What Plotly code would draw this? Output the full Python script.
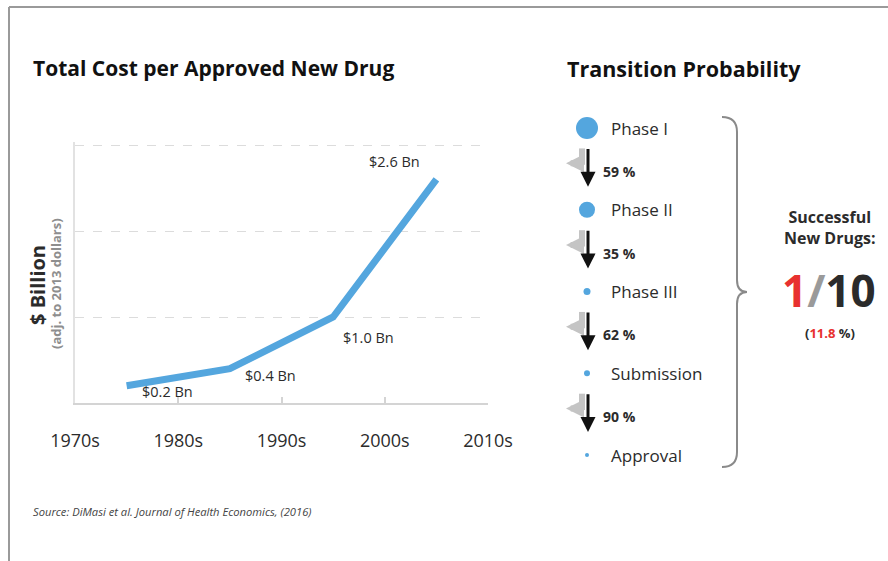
import plotly.graph_objects as go

# ---------------- data ----------------
decades = [1970, 1980, 1990, 2000, 2010]
decade_labels = ["1970s", "1980s", "1990s", "2000s", "2010s"]
years = [1975, 1985, 1995, 2005]
cost_bn = [0.2, 0.4, 1.0, 2.6]
y_grid = [1, 2, 3]

stages = ["Phase I", "Phase II", "Phase III", "Submission", "Approval"]
transition_pct = [59, 35, 62, 90]
success_num = 1
success_den = 10
success_pct = 11.8

W, H = 888, 561
DARK = "#2b2b2b"
BLUE = "#54a6de"
GRAYA = "#c4c4c4"
FONT = "Open Sans"


def px(x):
    return x / W


def py(y):
    return 1 - y / H


fig = go.Figure()

# ---------------- left chart ----------------
fig.add_trace(go.Scatter(
    x=years, y=cost_bn, mode="lines",
    line=dict(color=BLUE, width=7),
    hoverinfo="skip", showlegend=False, xaxis="x", yaxis="y"))

label_shifts = [(41, -6), (41, -7), (35, -20), (-42, 18)]
annotations = []
for yr, v, (dx, dy) in zip(years, cost_bn, label_shifts):
    annotations.append(dict(
        x=yr, y=v, xref="x", yref="y", text=f"${v:.1f} Bn", showarrow=False,
        xshift=dx, yshift=dy, xanchor="center", yanchor="middle",
        font=dict(family=FONT, size=14.5, color=DARK)))

# ---------------- transition panel (x2: pixels, y2: stage index) ----------------
marker_sizes = [22, 16, 7, 6, 4]
idx = list(range(len(stages)))
fig.add_trace(go.Scatter(
    x=[587] * len(stages), y=idx, mode="markers",
    marker=dict(size=marker_sizes, color=BLUE, opacity=1, line=dict(width=0)),
    hoverinfo="skip", showlegend=False, xaxis="x2", yaxis="y2"))

for i, s in enumerate(stages):
    annotations.append(dict(
        x=609, y=i, xref="x2", yref="y2", text=s, showarrow=False,
        xanchor="left", yanchor="middle",
        font=dict(family=FONT, size=17, color=DARK)))

shapes = []
for i, p in enumerate(transition_pct):
    annotations.append(dict(
        x=601, y=i + 0.53, xref="x2", yref="y2", text=f"<b>{p} %</b>",
        showarrow=False, xanchor="left", yanchor="middle",
        font=dict(family=FONT, size=14, color=DARK)))
    # gray drop-out arrow (vertical stub + left-pointing head)
    shapes.append(dict(
        type="line", xref="x2", yref="y2", x0=582, x1=582,
        y0=i + 0.25, y1=i + 0.45, line=dict(color=GRAYA, width=6)))
    annotations.append(dict(
        x=566, y=i + 0.43, ax=585, ay=i + 0.43, xref="x2", yref="y2",
        axref="x2", ayref="y2", text="", showarrow=True,
        arrowhead=2, arrowsize=0.6, arrowwidth=6, arrowcolor=GRAYA))
    # black down arrow
    annotations.append(dict(
        x=588, y=i + 0.72, ax=588, ay=i + 0.24, xref="x2", yref="y2",
        axref="x2", ayref="y2", text="", showarrow=True,
        arrowhead=2, arrowsize=1.0, arrowwidth=3, arrowcolor="#111"))

# brace
brace = (f"M {px(722)},{py(117)} Q {px(737)},{py(117)} {px(737)},{py(132)} "
         f"L {px(737)},{py(280)} Q {px(737)},{py(292)} {px(747)},{py(292)} "
         f"Q {px(737)},{py(292)} {px(737)},{py(304)} "
         f"L {px(737)},{py(452)} Q {px(737)},{py(467)} {px(722)},{py(467)}")
shapes.append(dict(type="path", xref="paper", yref="paper", path=brace,
                   line=dict(color="#8a8a8a", width=2)))

# frame lines
shapes.append(dict(type="line", xref="paper", yref="paper",
                   x0=px(9), x1=px(888), y0=py(7), y1=py(7),
                   line=dict(color="#9a9a9a", width=2)))
shapes.append(dict(type="line", xref="paper", yref="paper",
                   x0=px(9), x1=px(9), y0=py(7), y1=py(561),
                   line=dict(color="#9a9a9a", width=2)))

# summary text
annotations += [
    dict(x=px(830), y=py(227), xref="paper", yref="paper", showarrow=False,
         xanchor="center", yanchor="middle",
         text="<b>Successful<br>New Drugs:</b>", align="center",
         font=dict(family=FONT, size=16, color=DARK)),
    dict(x=px(829), y=py(290), xref="paper", yref="paper", showarrow=False,
         xanchor="center", yanchor="middle",
         text=(f"<b><span style='color:#e8312f'>{success_num}</span>"
               f"<span style='color:#9a9a9a'>/</span>{success_den}</b>"),
         font=dict(family=FONT, size=44, color=DARK)),
    dict(x=px(830), y=py(333), xref="paper", yref="paper", showarrow=False,
         xanchor="center", yanchor="middle",
         text=f"<b>(<span style='color:#e8312f'>{success_pct}</span> %)</b>",
         font=dict(family=FONT, size=13, color=DARK)),
    # titles
    dict(x=px(31), y=py(68), xref="paper", yref="paper", showarrow=False,
         xanchor="left", yanchor="middle",
         text="<b>Total Cost per Approved New Drug</b>",
         font=dict(family=FONT, size=21, color="#111")),
    dict(x=px(565), y=py(68), xref="paper", yref="paper", showarrow=False,
         xanchor="left", yanchor="middle",
         text="<b>Transition Probability</b>",
         font=dict(family=FONT, size=21.5, color="#111")),
    # y axis titles
    dict(x=px(37), y=py(285), xref="paper", yref="paper", showarrow=False,
         xanchor="center", yanchor="middle",
         textangle=-90, text="<b>$ Billion</b>",
         font=dict(family=FONT, size=20, color=DARK)),
    dict(x=px(56), y=py(283), xref="paper", yref="paper", showarrow=False,
         xanchor="center", yanchor="middle",
         textangle=-90, text="<b>(adj. to 2013 dollars)</b>",
         font=dict(family=FONT, size=13, color="#8e8e8e")),
    # source
    dict(x=px(31), y=py(512), xref="paper", yref="paper", showarrow=False,
         xanchor="left", yanchor="middle",
         text="<i>Source: DiMasi et al. Journal of Health Economics, (2016)</i>",
         font=dict(family=FONT, size=11.2, color="#444")),
]

Y_TOP = 3.03
PPU = (403 - 145) / 3.0

fig.update_layout(
    width=W, height=H,
    margin=dict(l=0, r=0, t=0, b=0, autoexpand=False),
    paper_bgcolor="white", plot_bgcolor="rgba(0,0,0,0)",
    xaxis=dict(domain=[px(75), px(488)], range=[1970, 2010],
               tickvals=decades, ticktext=decade_labels,
               showgrid=False, zeroline=False, showline=True,
               linecolor="#d4d4d4", linewidth=2, ticks="inside", ticklen=6,
               tickcolor="#d4d4d4", tickwidth=2, ticklabelstandoff=20,
               tickfont=dict(family=FONT, size=18, color=DARK), anchor="y",
               automargin=False),
    yaxis=dict(domain=[py(403), py(403 - Y_TOP * PPU)], range=[0, Y_TOP],
               tickvals=y_grid,
               showgrid=True, gridcolor="#dcdcdc", griddash="dash",
               gridwidth=1, showticklabels=False, zeroline=False,
               showline=True, linecolor="#e2e2e2", linewidth=2, anchor="x",
               automargin=False),
    xaxis2=dict(domain=[0, 1], range=[0, W], visible=False, anchor="y2"),
    yaxis2=dict(domain=[0, 1], range=[(H - 128) / 81.75, -128 / 81.75],
                visible=False, anchor="x2"),
    shapes=shapes, annotations=annotations,
    font=dict(family=FONT),
)

fig.write_html("out.html")
